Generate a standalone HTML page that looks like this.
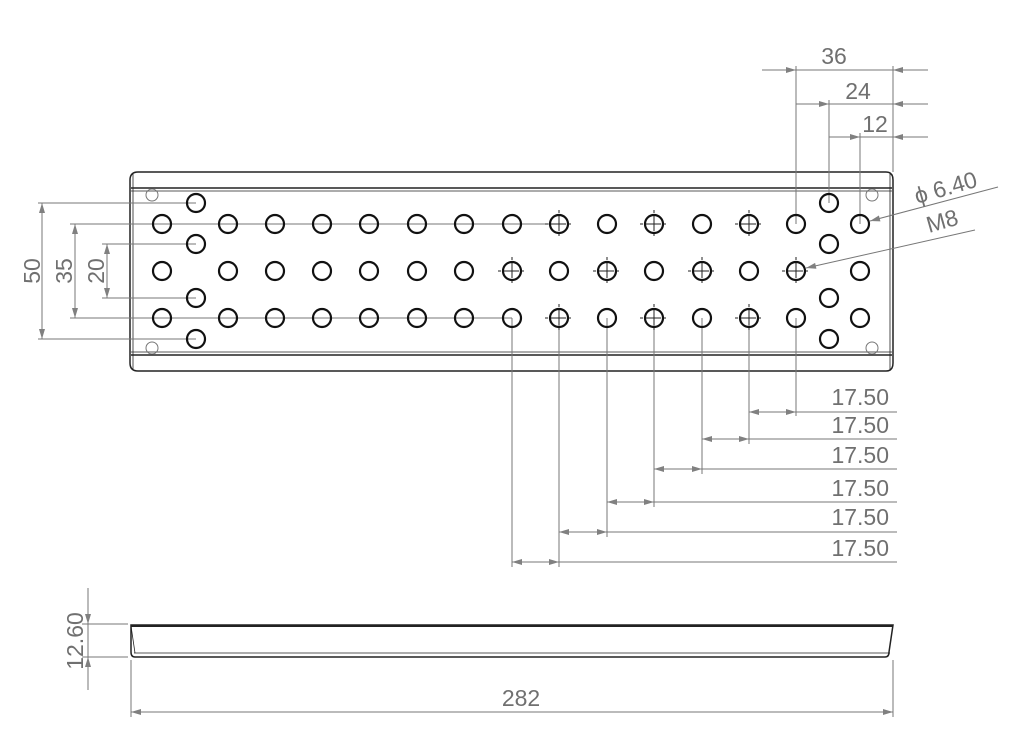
<!DOCTYPE html>
<html><head><style>body{margin:0;background:#fff}svg{display:block}</style></head><body>
<svg width="1020" height="750" viewBox="0 0 1020 750" xmlns="http://www.w3.org/2000/svg">
<defs>
<marker id="a" viewBox="0 0 10 6" refX="10" refY="3" markerWidth="16" markerHeight="6" markerUnits="userSpaceOnUse" orient="auto-start-reverse"><path d="M0,0L10,3L0,6z" fill="#808080"/></marker>
</defs>
<g fill="none" stroke="#222" stroke-width="1.5">
<path d="M138,172 H886 Q893,172 893,180 V363 Q893,371 886,371 H138 Q130,371 130,363 V180 Q130,172 138,172Z"/>
<line x1="131" y1="188" x2="892" y2="188"/><line x1="131" y1="191" x2="892" y2="191" stroke-width="0.8"/>
<line x1="131" y1="355" x2="892" y2="355"/><line x1="131" y1="352" x2="892" y2="352" stroke-width="0.8"/>
<line x1="133" y1="174" x2="133" y2="369" stroke-width="0.8"/><line x1="890" y1="174" x2="890" y2="369" stroke-width="0.8"/>
<path d="M131,625 H893 L889,652 Q889,657 885,657 H135 Q131,657 131,652Z"/>
<line x1="131" y1="626" x2="893" y2="626" stroke-width="2"/>
<line x1="134" y1="653" x2="890" y2="653" stroke-width="0.8"/>
<line x1="131" y1="626" x2="135" y2="653" stroke-width="0.8"/>
</g>
<g fill="none" stroke="#777" stroke-width="1">
<circle cx="152" cy="195" r="6"/><circle cx="152" cy="348" r="6"/><circle cx="872" cy="195" r="6"/><circle cx="872" cy="348" r="6"/>
<line x1="38" y1="203" x2="196" y2="203"/><line x1="38" y1="339" x2="196" y2="339"/>
<line x1="70" y1="224" x2="559" y2="224"/><line x1="70" y1="318" x2="512" y2="318"/>
<line x1="102" y1="244" x2="196" y2="244"/><line x1="102" y1="298" x2="196" y2="298"/>
<line x1="42" y1="203" x2="42" y2="339" marker-start="url(#a)" marker-end="url(#a)"/>
<line x1="75" y1="224" x2="75" y2="318" marker-start="url(#a)" marker-end="url(#a)"/>
<line x1="107" y1="244" x2="107" y2="298" marker-start="url(#a)" marker-end="url(#a)"/>
<line x1="796" y1="66" x2="796" y2="224"/><line x1="829" y1="100" x2="829" y2="203"/><line x1="860" y1="133" x2="860" y2="224"/>
<line x1="893" y1="66" x2="893" y2="172"/>
<line x1="762" y1="70" x2="796" y2="70" marker-end="url(#a)"/><line x1="796" y1="70" x2="893" y2="70"/><line x1="928" y1="70" x2="893" y2="70" marker-end="url(#a)"/>
<line x1="796" y1="104" x2="829" y2="104" marker-end="url(#a)"/><line x1="829" y1="104" x2="893" y2="104"/><line x1="928" y1="104" x2="893" y2="104" marker-end="url(#a)"/>
<line x1="829" y1="137" x2="860" y2="137" marker-end="url(#a)"/><line x1="860" y1="137" x2="893" y2="137"/><line x1="928" y1="137" x2="893" y2="137" marker-end="url(#a)"/>
<line x1="998" y1="187" x2="870" y2="221" marker-end="url(#a)"/>
<line x1="975" y1="230" x2="806" y2="268" marker-end="url(#a)"/>
<line x1="512" y1="318" x2="512" y2="567"/><line x1="559" y1="318" x2="559" y2="567"/><line x1="607" y1="318" x2="607" y2="537"/>
<line x1="654" y1="318" x2="654" y2="507"/><line x1="702" y1="318" x2="702" y2="474"/><line x1="749" y1="318" x2="749" y2="444"/><line x1="796" y1="318" x2="796" y2="416"/>
<line x1="749" y1="412" x2="796" y2="412" marker-start="url(#a)" marker-end="url(#a)"/><line x1="796" y1="412" x2="897" y2="412"/>
<line x1="702" y1="439" x2="749" y2="439" marker-start="url(#a)" marker-end="url(#a)"/><line x1="749" y1="439" x2="897" y2="439"/>
<line x1="654" y1="469" x2="702" y2="469" marker-start="url(#a)" marker-end="url(#a)"/><line x1="702" y1="469" x2="897" y2="469"/>
<line x1="607" y1="502" x2="654" y2="502" marker-start="url(#a)" marker-end="url(#a)"/><line x1="654" y1="502" x2="897" y2="502"/>
<line x1="559" y1="532" x2="607" y2="532" marker-start="url(#a)" marker-end="url(#a)"/><line x1="607" y1="532" x2="897" y2="532"/>
<line x1="512" y1="562" x2="559" y2="562" marker-start="url(#a)" marker-end="url(#a)"/><line x1="559" y1="562" x2="897" y2="562"/>
<line x1="82" y1="624" x2="128" y2="624"/><line x1="82" y1="657" x2="128" y2="657"/>
<line x1="88" y1="588" x2="88" y2="624" marker-end="url(#a)"/><line x1="88" y1="690" x2="88" y2="657" marker-end="url(#a)"/><line x1="88" y1="624" x2="88" y2="657"/>
<line x1="131" y1="660" x2="131" y2="717"/><line x1="893" y1="660" x2="893" y2="717"/>
<line x1="131" y1="712" x2="893" y2="712" marker-start="url(#a)" marker-end="url(#a)"/>
<path d="M545,224h28M559,210v28M640,224h28M654,210v28M735,224h28M749,210v28M498,271h28M512,257v28M593,271h28M607,257v28M688,271h28M702,257v28M782,271h28M796,257v28M545,318h28M559,304v28M640,318h28M654,304v28M735,318h28M749,304v28" stroke="#222" stroke-dasharray="3,2,16,2,3"/>
</g>
<g fill="none" stroke="#111" stroke-width="2.2">
<circle cx="196" cy="203" r="9"/><circle cx="196" cy="244" r="9"/><circle cx="196" cy="298" r="9"/><circle cx="196" cy="339" r="9"/>
<circle cx="829" cy="203" r="9"/><circle cx="829" cy="244" r="9"/><circle cx="829" cy="298" r="9"/><circle cx="829" cy="339" r="9"/>
<circle cx="162" cy="224" r="9"/><circle cx="228" cy="224" r="9"/><circle cx="275" cy="224" r="9"/><circle cx="322" cy="224" r="9"/><circle cx="369" cy="224" r="9"/><circle cx="417" cy="224" r="9"/><circle cx="464" cy="224" r="9"/><circle cx="512" cy="224" r="9"/><circle cx="559" cy="224" r="9"/><circle cx="607" cy="224" r="9"/><circle cx="654" cy="224" r="9"/><circle cx="702" cy="224" r="9"/><circle cx="749" cy="224" r="9"/><circle cx="796" cy="224" r="9"/><circle cx="860" cy="224" r="9"/>
<circle cx="162" cy="271" r="9"/><circle cx="228" cy="271" r="9"/><circle cx="275" cy="271" r="9"/><circle cx="322" cy="271" r="9"/><circle cx="369" cy="271" r="9"/><circle cx="417" cy="271" r="9"/><circle cx="464" cy="271" r="9"/><circle cx="512" cy="271" r="9"/><circle cx="559" cy="271" r="9"/><circle cx="607" cy="271" r="9"/><circle cx="654" cy="271" r="9"/><circle cx="702" cy="271" r="9"/><circle cx="749" cy="271" r="9"/><circle cx="796" cy="271" r="9"/><circle cx="860" cy="271" r="9"/>
<circle cx="162" cy="318" r="9"/><circle cx="228" cy="318" r="9"/><circle cx="275" cy="318" r="9"/><circle cx="322" cy="318" r="9"/><circle cx="369" cy="318" r="9"/><circle cx="417" cy="318" r="9"/><circle cx="464" cy="318" r="9"/><circle cx="512" cy="318" r="9"/><circle cx="559" cy="318" r="9"/><circle cx="607" cy="318" r="9"/><circle cx="654" cy="318" r="9"/><circle cx="702" cy="318" r="9"/><circle cx="749" cy="318" r="9"/><circle cx="796" cy="318" r="9"/><circle cx="860" cy="318" r="9"/>
</g>
<g fill="#707070" font-family="'Liberation Sans',sans-serif" font-size="23">
<text x="834" y="64" text-anchor="middle">36</text>
<text x="858" y="99" text-anchor="middle">24</text>
<text x="875" y="132" text-anchor="middle">12</text>
<text x="0" y="0" transform="translate(917,204) rotate(-16)">ϕ 6.40</text>
<text x="0" y="0" transform="translate(929,233) rotate(-16)">M8</text>
<text transform="translate(40,271) rotate(-90)" text-anchor="middle">50</text>
<text transform="translate(72,271) rotate(-90)" text-anchor="middle">35</text>
<text transform="translate(104,271) rotate(-90)" text-anchor="middle">20</text>
<text transform="translate(83,641) rotate(-90)" text-anchor="middle">12.60</text>
<text x="521" y="706" text-anchor="middle">282</text>
<text x="889" y="405" text-anchor="end">17.50</text>
<text x="889" y="433" text-anchor="end">17.50</text>
<text x="889" y="463" text-anchor="end">17.50</text>
<text x="889" y="496" text-anchor="end">17.50</text>
<text x="889" y="525" text-anchor="end">17.50</text>
<text x="889" y="556" text-anchor="end">17.50</text>
</g>
</svg>
</body></html>
